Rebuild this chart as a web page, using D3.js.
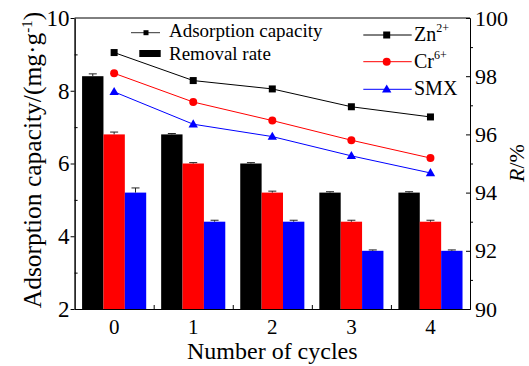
<!DOCTYPE html>
<meta charset="utf-8">
<script src="https://d3js.org/d3.v7.min.js"></script>
<style>
	body{
		margin:0;
		background:#fff;
	}
	svg text{
		font-family:"Liberation Serif","Times New Roman",serif;
		fill:#000;
	}
</style>
<div id="chart"></div>
<script>

	// cycles on the x axis
	var cycles = ["0","1","2","3","4"]
	var seriesNames = ["Zn","Cr","SMX"]
	var seriesColors = ["#000000","#ff0000","#0000ff"]

	// adsorption capacity (left axis, mg/g)
	var capZn = [9.05, 8.28, 8.05, 7.56, 7.28]
	var capCr = [8.48, 7.69, 7.18, 6.64, 6.15]
	var capSMX = [7.97, 7.08, 6.74, 6.21, 5.74]

	// removal rate (right axis, %)
	var rateZn = [98, 96, 95, 94, 94]
	var rateCr = [96, 95, 94, 93, 93]
	var rateSMX = [94, 93, 93, 92, 92]
	var errZn = [0.08, 0.03, 0.03, 0.03, 0.03]
	var errCr = [0.08, 0.03, 0.05, 0.05, 0.05]
	var errSMX = [0.16, 0.05, 0.05, 0.03, 0.03]

	var leftTicks = [2,4,6,8,10]
	var leftMinor = [3,5,7,9]
	var rightTicks = [90,92,94,96,98,100]
	var rightMinor = [91,93,95,97,99]

	var w = 529
	var h = 366
	var plotL = 74.6, plotR = 470, plotT = 18, plotB = 309

	var svg = d3.select("#chart").append("svg")
		.attr("width",w)
		.attr("height",h)

	var x = d3.scaleBand().domain(cycles).range([plotL,plotR]).padding(0)
	var xSub = d3.scaleBand().domain(seriesNames).range([0,x.bandwidth()]).paddingOuter(0.35).paddingInner(0)
	var yL = d3.scaleLinear().domain([2,10]).range([plotB,plotT])
	var yR = d3.scaleLinear().domain([90,100]).range([plotB,plotT])
	var xIdx = d3.scaleLinear().domain([-0.5,cycles.length-0.5]).range([plotL,plotR])

	var caps = [capZn,capCr,capSMX]
	var rates = [rateZn,rateCr,rateSMX]
	var errs = [errZn,errCr,errSMX]

	// bars (removal rate)
	rates.forEach(function(r,s){
		var g = svg.append("g")
		g.selectAll("rect")
			.data(r)
			.join("rect")
			.attr("x",function(d,i){return x(cycles[i])+xSub(seriesNames[s])})
			.attr("width",xSub.bandwidth())
			.attr("y",function(d){return yR(d)})
			.attr("height",function(d){return plotB-yR(d)})
			.attr("fill",seriesColors[s])
		// error bars
		g.selectAll("path.err")
			.data(r)
			.join("path")
			.attr("class","err")
			.attr("d",function(d,i){
				var cx = x(cycles[i])+xSub(seriesNames[s])+xSub.bandwidth()/2
				var y1 = yR(d), y2 = yR(d+errs[s][i])
				return "M"+cx+","+y1+"V"+y2+"M"+(cx-4)+","+y2+"H"+(cx+4)
			})
			.attr("stroke","#222")
			.attr("stroke-width",1)
			.attr("fill","none")
	})

	// lines (adsorption capacity)
	var line = d3.line()
		.x(function(d,i){return x(cycles[i])+x.bandwidth()/2})
		.y(function(d){return yL(d)})

	function marker(g,s,cx,cy){
		if(s==0){
			g.append("rect").attr("x",cx-3.5).attr("y",cy-3.5).attr("width",7).attr("height",7).attr("fill","#000")
		}else if(s==1){
			g.append("circle").attr("cx",cx).attr("cy",cy).attr("r",4).attr("fill","#ff0000")
		}else{
			g.append("path").attr("d",d3.symbol().type(d3.symbolTriangle).size(38)()).attr("transform","translate("+cx+","+(cy+0.5)+")").attr("fill","#0000ff")
		}
	}

	caps.forEach(function(c,s){
		var g = svg.append("g")
		g.append("path")
			.datum(c)
			.attr("d",line)
			.attr("fill","none")
			.attr("stroke",seriesColors[s])
			.attr("stroke-width",1)
		c.forEach(function(d,i){
			marker(g,s,x(cycles[i])+x.bandwidth()/2,yL(d))
		})
	})

	// axes
	function styleAxis(g){
		g.attr("font-family",null).attr("font-size",null)
		g.selectAll("path,line").attr("stroke","#000").attr("stroke-width",1)
	}

	svg.append("g").attr("transform","translate("+plotL+",0)")
		.call(d3.axisLeft(yL).tickValues(leftTicks).tickSizeInner(4).tickSizeOuter(0).tickPadding(1))
		.call(styleAxis)
		.selectAll("text").style("font-size","23px")
	svg.append("g").attr("transform","translate("+plotL+",0)")
		.call(d3.axisLeft(yL).tickValues(leftMinor).tickSizeInner(-3).tickSizeOuter(0).tickFormat(""))
		.call(styleAxis)

	svg.append("g").attr("transform","translate("+plotR+",0)")
		.call(d3.axisRight(yR).tickValues(rightTicks).tickSizeInner(-4).tickSizeOuter(0).tickPadding(5))
		.call(styleAxis)
		.selectAll("text").style("font-size","22px")
	svg.append("g").attr("transform","translate("+plotR+",0)")
		.call(d3.axisRight(yR).tickValues(rightMinor).tickSizeInner(3).tickSizeOuter(0).tickFormat(""))
		.call(styleAxis)

	svg.append("g").attr("transform","translate(0,"+plotB+")")
		.call(d3.axisBottom(x).tickSizeInner(0).tickSizeOuter(0).tickPadding(10))
		.call(styleAxis)
		.selectAll("text").style("font-size","21px")
	svg.append("g").attr("transform","translate(0,"+plotB+")")
		.call(d3.axisBottom(xIdx).tickValues([0.5,1.5,2.5,3.5]).tickSizeInner(-4).tickSizeOuter(0).tickFormat(""))
		.call(styleAxis)

	svg.append("line").attr("x1",plotL).attr("x2",plotR).attr("y1",plotT).attr("y2",plotT).attr("stroke","#000")

	// axis titles
	svg.append("text").text("Number of cycles")
		.attr("x",(plotL+plotR)/2).attr("y",359).attr("text-anchor","middle").style("font-size","24px")

	var yTitle = svg.append("text")
		.attr("transform","translate(41,160) rotate(-90)")
		.attr("text-anchor","middle").style("font-size","25.5px")
	yTitle.append("tspan").text("Adsorption capacity/(mg·g")
	yTitle.append("tspan").text("-1").attr("dy",-9).style("font-size","15px")
	yTitle.append("tspan").text(")").attr("dy",9)

	var rTitle = svg.append("text")
		.attr("transform","translate(524,163) rotate(-90)")
		.attr("text-anchor","middle").style("font-size","22px")
	rTitle.append("tspan").text("R").style("font-style","italic")
	rTitle.append("tspan").text("/%")

	// legend left
	var lg = svg.append("g")
	lg.append("line").attr("x1",131).attr("x2",160).attr("y1",32.7).attr("y2",32.7).attr("stroke","#333")
	lg.append("rect").attr("x",143.5).attr("y",30.2).attr("width",5).attr("height",5).attr("fill","#000")
	lg.append("text").text("Adsorption capacity").attr("x",169).attr("y",37).style("font-size","19px")
	lg.append("rect").attr("x",139.3).attr("y",50).attr("width",21.4).attr("height",7).attr("fill","#000")
	lg.append("text").text("Removal rate").attr("x",169).attr("y",60).style("font-size","19px")

	// legend right
	var legLabels = ["Zn","Cr","SMX"]
	var legSup = ["2+","6+",""]
	var legY = [35,61.7,89.3]
	legLabels.forEach(function(l,s){
		var g = svg.append("g")
		g.append("line").attr("x1",363.3).attr("x2",411.7).attr("y1",legY[s]).attr("y2",legY[s]).attr("stroke",seriesColors[s])
		marker(g,s,386.7,legY[s])
		var t = g.append("text").attr("x",414).attr("y",legY[s]+6).style("font-size","20px")
		t.append("tspan").text(l)
		if(legSup[s]!=""){
			t.append("tspan").text(legSup[s]).attr("dy",-9).style("font-size","12px")
		}
	})

</script>
